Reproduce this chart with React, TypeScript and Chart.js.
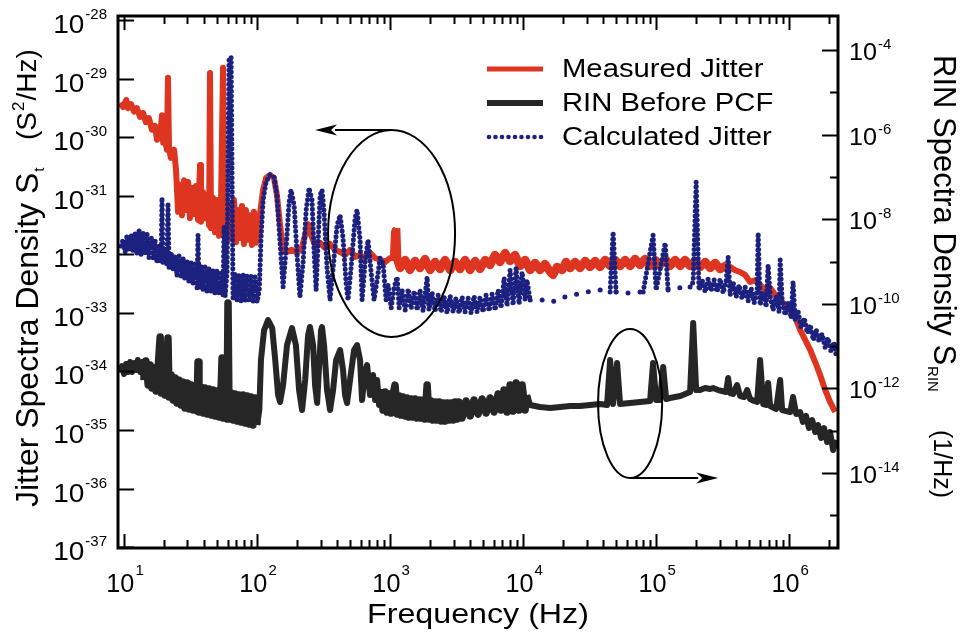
import React, { useEffect, useRef } from 'react';
import { Chart, registerables } from 'chart.js';

Chart.register(...registerables);

// ---- data: [frequency (Hz), spectral density] ----
const measuredJitter: [number, number][] = [
  [9.33, 3.89e-30], [9.83, 3.31e-30], [10.4, 4.37e-30], [10.7, 3.16e-30], [11.3, 3.72e-30], [11.9, 2.75e-30],
  [12.5, 3.16e-30], [13.2, 2.24e-30], [13.9, 2.63e-30], [14.6, 1.82e-30], [15.4, 2.14e-30], [16.2, 1.35e-30],
  [17.1, 1.58e-30], [17.7, 9.12e-31], [18.7, 1.1e-30], [19.3, 2.4e-30], [19.7, 8.13e-31], [20.3, 9.77e-31],
  [21.0, 6.17e-31], [21.4, 1.05e-29], [21.8, 6.17e-31], [22.5, 4.47e-31], [23.8, 6.17e-31], [24.6, 2.75e-31],
  [25.5, 5.37e-32], [26.4, 1.55e-31], [27.3, 4.68e-32], [28.3, 1.86e-31], [29.3, 5.75e-32], [30.3, 1.74e-31],
  [31.3, 4.17e-32], [32.4, 1.38e-31], [33.6, 4.9e-32], [34.8, 1.48e-31], [36.0, 3.89e-32], [37.3, 3.39e-31],
  [37.9, 3.63e-32], [39.3, 1.17e-31], [40.6, 4.17e-32], [42.1, 1.05e-31], [43.6, 3.16e-32], [44.3, 1.26e-29],
  [45.1, 2.82e-32], [46.7, 9.33e-32], [48.3, 2.4e-32], [50.0, 8.51e-32], [51.8, 2.09e-32], [53.6, 7.24e-32],
  [55.5, 1.55e-29], [56.5, 2.09e-32], [58.5, 9.33e-32], [60.5, 1.78e-32], [62.7, 7.08e-32], [64.9, 1.91e-32],
  [67.1, 8.51e-32], [69.5, 1.62e-32], [71.9, 5.75e-32], [74.5, 1.91e-32], [77.1, 6.76e-32], [79.8, 1.51e-32],
  [82.6, 5.75e-32], [85.5, 1.78e-32], [88.5, 4.68e-32], [91.6, 1.45e-32], [94.8, 5.37e-32], [98.2, 1.58e-32],
  [102, 1.91e-32], [105, 4.68e-32], [111, 1.26e-31], [117, 2.04e-31], [125, 2.29e-31], [134, 2.04e-31],
  [141, 1.05e-31], [149, 3.16e-32], [157, 1.2e-32], [168, 1.1e-32], [183, 1.2e-32], [200, 1.07e-32],
  [218, 1.35e-32], [230, 2.14e-32], [242, 3.31e-32], [255, 2.14e-32], [273, 1.45e-32], [298, 1.58e-32],
  [324, 1.29e-32], [354, 1.51e-32], [386, 1.2e-32], [421, 1.1e-32], [459, 9.77e-33], [500, 1.2e-32],
  [546, 9.12e-33], [595, 9.77e-33], [649, 8.71e-33], [708, 1.07e-32], [771, 8.71e-33], [841, 8.13e-33],
  [917, 7.41e-33], [1000, 8.71e-33], [1050, 8.71e-33], [1070, 2.4e-32], [1110, 2.82e-32], [1130, 8.37e-33],
  [1190, 5.87e-33], [1300, 8.05e-33], [1410, 5.43e-33], [1540, 7.74e-33], [1680, 5.87e-33], [1830, 8.37e-33],
  [2000, 5.43e-33], [2180, 7.45e-33], [2380, 5.65e-33], [2590, 8.05e-33], [2830, 5.43e-33], [3080, 7.45e-33],
  [3360, 5.65e-33], [3660, 8.05e-33], [4000, 5.43e-33], [4360, 7.74e-33], [4750, 5.65e-33], [5180, 8.05e-33],
  [5650, 6.62e-33], [6150, 9.8e-33], [6710, 7.45e-33], [7320, 1.06e-32], [7980, 7.74e-33], [8700, 9.8e-33],
  [9490, 6.36e-33], [10350, 8.05e-33],
  [11300, 5.43e-33], [12300, 7.16e-33], [13400, 5.43e-33], [14600, 6.89e-33], [16000, 5.02e-33], [16800, 4.47e-33],
  [18000, 6.11e-33], [19700, 5.43e-33], [21000, 7.45e-33], [22600, 5.87e-33], [24600, 7.45e-33], [26800, 5.87e-33],
  [29300, 7.74e-33], [31900, 6.11e-33], [34800, 7.74e-33], [37900, 6.11e-33], [41400, 8.05e-33], [45100, 6.36e-33],
  [49200, 8.05e-33], [53600, 6.36e-33], [58500, 8.05e-33], [63800, 6.36e-33], [69500, 8.37e-33], [75800, 6.62e-33],
  [82700, 8.37e-33], [90100, 6.36e-33], [98300, 8.05e-33], [107000, 6.62e-33], [117000, 8.37e-33], [127000, 6.36e-33],
  [139000, 8.05e-33], [152000, 6.36e-33], [165000, 8.05e-33], [180000, 6.36e-33], [196000, 7.74e-33], [214000, 6.11e-33],
  [234000, 7.45e-33], [255000, 5.87e-33], [278000, 7.16e-33], [303000, 5.65e-33], [342000, 6.62e-33],
  [393000, 5.37e-33], [428000, 5.01e-33], [467000, 4.47e-33],
  [509000, 3.39e-33], [555000, 3.63e-33], [605000, 3.02e-33], [660000, 2.45e-33], [719000, 2.69e-33], [785000, 2.04e-33],
  [855000, 1.66e-33], [933000, 1.38e-33], [1.02e6, 1.12e-33], [1.11e6, 8.51e-34], [1.21e6, 5.13e-34], [1.32e6, 3.47e-34],
  [1.44e6, 2.34e-34], [1.57e6, 1.45e-34], [1.71e6, 8.71e-35], [1.87e6, 4.79e-35], [2.03e6, 3.02e-35], [2.22e6, 2.04e-35],
];

const rinBeforePCF: [number, number][] = [
  [9.33, 2.44e-12], [9.66, 3.39e-12], [10.0, 2.19e-12], [10.35, 3.78e-12], [10.7, 2.44e-12], [11.1, 4.21e-12],
  [11.5, 2.44e-12], [11.9, 3.98e-12], [12.3, 2.72e-12], [12.7, 4.69e-12], [13.2, 2.44e-12], [13.7, 4.21e-12],
  [14.1, 1.58e-12], [14.6, 4.44e-12], [15.2, 1.21e-12], [15.7, 3.56e-12], [16.2, 1.02e-12], [16.8, 3.03e-12],
  [17.4, 8.7e-13], [18.0, 2.71e-12], [18.7, 1.64e-11], [19.0, 7.8e-13], [19.6, 2.44e-12], [20.3, 7.0e-13],
  [21.0, 2.31e-12], [21.4, 1.55e-11], [21.8, 6.27e-13], [22.6, 2.07e-12], [23.4, 5.33e-13], [24.2, 1.76e-12],
  [25.0, 4.53e-13], [25.9, 1.57e-12], [26.8, 4.06e-13], [27.8, 1.41e-12], [28.7, 3.45e-13], [29.8, 1.34e-12],
  [30.8, 3.27e-13], [31.9, 1.2e-12], [33.0, 3.1e-13], [34.2, 1.08e-12], [35.4, 2.93e-13], [36.0, 4.21e-12],
  [36.6, 2.77e-13], [37.9, 1.08e-12], [39.3, 2.63e-13], [40.6, 1.02e-12], [42.1, 2.49e-13], [43.6, 9.67e-13],
  [45.1, 2.35e-13], [46.7, 9.14e-13], [48.3, 2.23e-13], [50.0, 8.66e-13], [51.8, 2.11e-13], [53.6, 8.66e-13],
  [54.6, 5.24e-12], [55.5, 2.0e-13], [57.5, 8.2e-13], [59.5, 1.89e-13], [60.5, 1.04e-10], [61.6, 1.89e-13],
  [63.8, 7.77e-13], [66.0, 1.79e-13], [68.3, 7.35e-13], [70.7, 1.7e-13], [73.2, 6.97e-13], [75.8, 1.61e-13],
  [78.5, 6.97e-13], [81.2, 1.53e-13], [84.1, 6.6e-13], [87.1, 1.44e-13], [90.1, 6.25e-13], [93.3, 1.37e-13],
  [96.6, 5.92e-13], [100, 1.37e-13],
  [104, 3.08e-13], [107, 4.69e-12], [113, 2.4e-11], [121, 4.14e-11], [130, 2.68e-11], [137, 4.69e-12],
  [144, 6.98e-13], [149, 4.77e-13], [157, 1.2e-12], [168, 1.06e-11], [183, 2.68e-11], [196, 1.06e-11],
  [207, 9.16e-13], [218, 3.08e-13], [230, 1.58e-12], [242, 1.83e-11], [250, 2.83e-11], [264, 1.06e-11],
  [273, 1.2e-12], [283, 4.52e-13], [293, 3.57e-12], [303, 2.4e-11], [308, 2.83e-11], [319, 1.06e-11],
  [336, 9.16e-13], [354, 3.08e-13], [373, 9.16e-13], [393, 4.69e-12], [421, 8.09e-12], [443, 2.72e-12],
  [459, 6.98e-13], [475, 4.52e-13], [500, 1.58e-12], [536, 8.09e-12], [565, 1.06e-11], [595, 4.69e-12],
  [616, 5.32e-13], [649, 2.44e-12], [672, 3.57e-12], [707, 6.98e-13], [745, 2.07e-12], [772, 5.32e-13],
  [799, 1.58e-12], [827, 4.06e-13],
  [856, 9.7e-13], [886, 3.08e-13], [917, 8.24e-13], [949, 2.77e-13], [983, 7.39e-13], [1020, 2.62e-13],
  [1050, 7.0e-13], [1090, 1.2e-12], [1130, 2.48e-13], [1170, 6.63e-13], [1210, 2.35e-13], [1250, 6.28e-13],
  [1300, 2.23e-13], [1340, 5.95e-13], [1390, 2.11e-13], [1440, 5.64e-13], [1490, 2.11e-13], [1540, 5.64e-13],
  [1600, 2.0e-13], [1650, 5.34e-13], [1710, 2.0e-13], [1770, 5.34e-13], [1830, 1.89e-13], [1900, 1.2e-12],
  [1960, 1.89e-13], [2030, 5.05e-13], [2100, 1.79e-13], [2180, 4.78e-13], [2260, 1.79e-13], [2340, 4.78e-13],
  [2420, 1.7e-13], [2500, 4.53e-13], [2590, 1.7e-13], [2680, 4.53e-13], [2780, 1.79e-13], [2870, 4.53e-13],
  [2980, 1.79e-13], [3080, 4.78e-13], [3190, 1.89e-13], [3300, 4.78e-13], [3480, 2.0e-13], [3730, 5.05e-13],
  [4000, 2.23e-13], [4280, 5.34e-13], [4590, 2.48e-13], [4920, 5.64e-13], [5270, 2.62e-13], [5650, 5.95e-13],
  [6050, 2.77e-13], [6490, 7.39e-13], [6830, 3.08e-13], [7200, 9.16e-13], [7580, 2.77e-13], [7990, 1.2e-12],
  [8410, 2.92e-13], [8860, 1.34e-12], [9330, 3.08e-13], [9830, 1.2e-12], [10350, 3.08e-13], [10700, 6.98e-13],
  [11300, 4.06e-13], [13400, 3.63e-13], [16000, 3.44e-13], [19000, 3.63e-13], [22600, 3.84e-13], [26800, 3.84e-13],
  [31900, 4.06e-13], [37900, 4.28e-13], [42800, 4.06e-13], [45100, 4.69e-12], [47500, 4.28e-13], [50900, 3.98e-12],
  [53600, 4.28e-13], [63800, 4.52e-13], [75800, 4.77e-13], [90100, 5.04e-13], [94900, 3.98e-12], [100000, 5.32e-13],
  [107000, 5.32e-13], [113000, 3.21e-12], [119000, 5.61e-13], [127000, 5.93e-13], [152000, 6.61e-13], [180000, 8.22e-13],
  [190000, 3.52e-11], [200000, 9.16e-13],
  [214000, 9.16e-13], [234000, 1.02e-12], [255000, 9.68e-13], [268000, 1.02e-12], [293000, 9.16e-13], [313000, 8.69e-13],
  [336000, 8.22e-13], [348000, 1.76e-12], [360000, 7.78e-13], [379000, 7.38e-13], [406000, 1.2e-12], [428000, 6.61e-13],
  [459000, 6.26e-13], [483000, 9.16e-13], [509000, 5.61e-13], [546000, 5.04e-13], [575000, 4.77e-13], [605000, 4.69e-12],
  [638000, 4.28e-13], [672000, 4.06e-13], [695000, 1.34e-12], [720000, 3.84e-13], [772000, 3.44e-13], [799000, 3.26e-13],
  [856000, 1.58e-12], [886000, 3.08e-13], [949000, 2.92e-13], [1.02e6, 2.77e-13], [1.07e6, 6.26e-13], [1.13e6, 2.48e-13],
  [1.21e6, 2.77e-13], [1.27e6, 1.61e-13], [1.34e6, 2.23e-13], [1.41e6, 1.16e-13], [1.49e6, 1.79e-13], [1.57e6, 9.31e-14],
  [1.65e6, 1.36e-13], [1.74e6, 6.72e-14], [1.83e6, 1.16e-13], [1.93e6, 5.41e-14], [2.03e6, 9.31e-14], [2.14e6, 3.5e-14],
  [2.26e6, 6.03e-14],
];

const calculatedJitter: [number, number][] = [
  [9.49, 1.4e-32], [9.83, 1.77e-32], [10.2, 1.1e-32], [10.5, 2.07e-32], [10.9, 1.19e-32], [11.3, 2.24e-32],
  [11.7, 1.1e-32], [12.1, 2.43e-32], [12.5, 1.02e-32], [13.0, 2.62e-32], [13.4, 9.42e-33], [13.9, 2.43e-32],
  [14.4, 9.8e-33], [14.9, 2.24e-32], [15.4, 8.71e-33], [16.0, 2.07e-32], [16.5, 8.05e-33], [17.1, 1.77e-32],
  [17.7, 7.16e-33], [18.3, 1.51e-32], [19.0, 7.45e-33], [19.3, 9.25e-32], [19.6, 6.89e-33], [20.3, 1.29e-32],
  [21.0, 6.36e-33], [21.4, 7.59e-32], [21.8, 5.87e-33], [22.6, 1.1e-32], [23.4, 5.43e-33], [24.2, 9.8e-33],
  [25.0, 4.29e-33], [25.9, 9.42e-33], [26.8, 3.96e-33], [27.8, 8.71e-33], [28.7, 3.66e-33], [29.8, 8.05e-33],
  [30.8, 3.26e-33], [31.9, 7.45e-33], [33.0, 3.01e-33], [34.2, 6.89e-33], [35.4, 2.67e-33], [36.0, 2.15e-32],
  [36.6, 2.57e-33], [37.9, 6.36e-33], [39.3, 2.47e-33], [40.6, 6.11e-33], [42.1, 2.29e-33], [43.6, 5.87e-33],
  [45.1, 2.2e-33], [46.7, 5.43e-33], [48.3, 2.11e-33], [50.0, 5.43e-33], [51.8, 2.03e-33], [53.6, 5.22e-33],
  [55.5, 1.95e-33], [56.5, 2.95e-32], [57.5, 1.88e-33], [59.5, 5.02e-33], [61.6, 2.11e-29], [63.8, 2.38e-29],
  [66.0, 1.8e-33], [68.3, 4.83e-33], [70.7, 1.67e-33], [73.2, 4.65e-33], [75.8, 1.6e-33], [78.5, 4.65e-33],
  [81.2, 1.54e-33], [84.1, 4.29e-33], [87.1, 1.54e-33], [90.1, 4.29e-33], [93.3, 1.48e-33], [96.6, 4.12e-33],
  [100, 1.54e-33],
  [104, 2.47e-33], [107, 1.77e-32], [111, 8.55e-32], [117, 1.73e-31], [125, 2.29e-31], [134, 2.11e-31],
  [141, 1.04e-31], [146, 3.19e-32], [152, 8.05e-33], [157, 2.78e-33], [165, 1.19e-32], [174, 7.59e-32],
  [180, 1.27e-31], [190, 7.02e-32], [200, 9.8e-33], [210, 1.88e-33], [222, 7.45e-33], [234, 5.77e-32],
  [246, 1.37e-31], [259, 8.55e-32], [268, 1.19e-32], [278, 2.47e-33], [287, 1.45e-32], [298, 1.04e-31],
  [308, 1.27e-31], [319, 5.32e-32], [336, 5.87e-33], [354, 1.67e-33], [373, 5.87e-33], [400, 3.19e-32],
  [421, 4.73e-32], [443, 1.91e-32], [467, 3.26e-33], [483, 1.67e-33], [509, 5.87e-33], [546, 4.21e-32],
  [565, 5.77e-32], [595, 1.77e-32], [616, 1.67e-33], [649, 7.45e-33], [683, 1.77e-32], [720, 5.02e-33],
  [758, 1.67e-33], [799, 3.66e-33], [841, 8.71e-33], [886, 7.16e-33], [933, 1.67e-33],
  [966, 3.01e-33], [1020, 1.22e-33], [1070, 2.67e-33], [1130, 4.12e-33], [1170, 1.22e-33], [1230, 2.47e-33],
  [1300, 1.12e-33], [1370, 2.57e-33], [1440, 1.17e-33], [1520, 2.38e-33], [1600, 1.12e-33], [1680, 2.47e-33],
  [1770, 1.08e-33], [1900, 4.12e-33], [1960, 1.12e-33], [2070, 2.2e-33], [2180, 1.08e-33], [2300, 2.03e-33],
  [2420, 1.04e-33], [2550, 1.88e-33], [2680, 1.0e-33], [2830, 1.95e-33], [2980, 1.04e-33], [3130, 1.8e-33],
  [3300, 1.0e-33], [3480, 1.88e-33], [3660, 1.04e-33], [3860, 1.8e-33], [4060, 1.0e-33], [4280, 1.95e-33],
  [4510, 1.04e-33], [4750, 1.88e-33], [5000, 1.04e-33], [5270, 2.03e-33], [5550, 1.08e-33], [5850, 2.11e-33],
  [6160, 1.12e-33], [6490, 2.47e-33], [6830, 1.22e-33], [7200, 3.96e-33], [7580, 1.32e-33], [7990, 5.43e-33],
  [8410, 1.37e-33], [8860, 5.87e-33], [9330, 1.43e-33], [9830, 5.02e-33], [10350, 1.67e-33], [10700, 3.66e-33],
  [11300, 1.67e-33], [14100, 1.67e-33], [16500, 1.54e-33], [19000, 1.8e-33], [23800, 2.03e-33], [30300, 2.29e-33],
  [37900, 2.47e-33], [45100, 2.29e-33], [47500, 2.43e-32], [50000, 2.29e-33], [60500, 2.2e-33], [79900, 2.29e-33],
  [94900, 2.15e-32], [100000, 2.47e-33], [117000, 1.57e-32], [123000, 2.47e-33], [144000, 2.67e-33], [180000, 2.78e-33],
  [190000, 3.39e-33], [200000, 1.73e-31], [210000, 2.47e-33], [222000, 3.66e-33], [234000, 2.29e-33], [246000, 3.81e-33],
  [259000, 2.38e-33], [273000, 3.66e-33], [287000, 2.29e-33], [303000, 3.81e-33], [319000, 2.2e-33], [336000, 3.52e-33],
  [348000, 9.06e-33], [360000, 2.03e-33], [379000, 3.39e-33], [400000, 1.88e-33], [421000, 3.01e-33], [443000, 1.73e-33],
  [467000, 2.78e-33], [492000, 1.6e-33], [518000, 2.67e-33], [546000, 1.48e-33], [575000, 2.47e-33], [585000, 2.33e-32],
  [605000, 1.37e-33], [638000, 2.29e-33], [672000, 1.27e-33], [695000, 6.62e-33], [720000, 1.95e-33], [758000, 1.12e-33],
  [799000, 1.95e-33], [841000, 1.04e-33], [856000, 8.05e-33], [886000, 1.67e-33], [933000, 9.25e-34], [983000, 1.54e-33],
  [1.035e6, 8.22e-34], [1.07e6, 3.39e-33], [1.11e6, 7.59e-34], [1.17e6, 1.04e-33], [1.23e6, 5.55e-34], [1.3e6, 8.22e-34],
  [1.37e6, 4.55e-34], [1.44e6, 6.24e-34], [1.52e6, 3.45e-34], [1.6e6, 5.12e-34], [1.68e6, 3.19e-34], [1.77e6, 4.37e-34],
  [1.87e6, 2.52e-34], [1.96e6, 3.74e-34], [2.07e6, 2.15e-34], [2.18e6, 3.19e-34], [2.26e6, 1.77e-34],
];

// ---- axes / ticks ----
const seriesNames = ['Measured Jitter', 'RIN Before PCF', 'Calculated Jitter'];
const xDecades = [1, 2, 3, 4, 5, 6];
const xMinorMultiples = [2, 3, 4, 5, 6, 7, 8, 9];
const leftDecades = [-28, -29, -30, -31, -32, -33, -34, -35, -36, -37];
const rightLabelDecades = [-4, -6, -8, -10, -12, -14];
const rightMinorDecades = [-5, -7, -9, -11, -13, -15];
const xRange = [9.01, 2.33e6];
const leftRange = [9.62e-38, 1.19e-28];
const rightRange = [1.69e-16, 6.37e-4];
const sparseBand = [11000, 185000]; // frequency band where the calculated curve is sparsely sampled
const redThickBand = [1100, 350000]; // frequency bands drawn as a broad noisy trace
const blackThickBands = [[14, 100], [850, 10700]];

// ---- annotations (data coordinates) ----
const leftEllipse = { f0: 342, f1: 3080, v0: 3.89e-34, v1: 1.34e-30, arrowTip: 273 };
const rightEllipse = { f0: 36600, f1: 111000, v0: 1.51e-36, v1: 5.32e-34, arrowTip: 293000 };

const RED = '#de3520';
const BLACK = '#262626';
const BLUE = '#1c2180';
const FONT = '"Liberation Sans", Arial, Helvetica, sans-serif';

function textWidth(ctx: CanvasRenderingContext2D, s: string, size: number, hs = 1) {
  ctx.font = `${size}px ${FONT}`;
  return ctx.measureText(s).width * hs;
}

function drawText(ctx: CanvasRenderingContext2D, s: string, x: number, y: number, size: number, hs = 1, align = 'left') {
  const w = textWidth(ctx, s, size, hs);
  const x0 = align === 'left' ? x : align === 'right' ? x - w : x - w / 2;
  ctx.save();
  ctx.translate(x0, y);
  ctx.scale(hs, 1);
  ctx.textAlign = 'left';
  ctx.textBaseline = 'alphabetic';
  ctx.fillText(s, 0, 0);
  ctx.restore();
  return w;
}

type PowStyle = { main: number; sup: number; raise: number; hs: number; supHs: number; gap: number };

function drawPower(ctx: CanvasRenderingContext2D, exp: number, x: number, y: number, align: string, st: PowStyle) {
  const ex = String(exp);
  const wb = textWidth(ctx, '10', st.main, st.hs);
  const we = textWidth(ctx, ex, st.sup, st.supHs);
  const total = wb + st.gap + we;
  const x0 = align === 'left' ? x : align === 'right' ? x - total : x - total / 2;
  drawText(ctx, '10', x0, y, st.main, st.hs);
  drawText(ctx, ex, x0 + wb + st.gap, y - st.raise, st.sup, st.supHs);
}

function drawRotated(ctx: CanvasRenderingContext2D, x: number, y: number, angle: number,
  parts: { text: string; size: number; dy: number }[]) {
  ctx.save();
  ctx.translate(x, y);
  ctx.rotate(angle);
  ctx.textAlign = 'left';
  ctx.textBaseline = 'alphabetic';
  let u = 0;
  for (const p of parts) {
    ctx.font = `${p.size}px ${FONT}`;
    ctx.fillText(p.text, u, p.dy);
    u += ctx.measureText(p.text).width + 1;
  }
  ctx.restore();
}

function arrow(ctx: CanvasRenderingContext2D, x0: number, y: number, x1: number) {
  const dir = Math.sign(x1 - x0);
  const len = 22, half = 5.5;
  ctx.beginPath();
  ctx.moveTo(x0, y);
  ctx.lineTo(x1 - dir * (len - 2), y);
  ctx.stroke();
  ctx.beginPath();
  ctx.moveTo(x1, y);
  ctx.lineTo(x1 - dir * len, y - half);
  ctx.lineTo(x1 - dir * (len - 6), y);
  ctx.lineTo(x1 - dir * len, y + half);
  ctx.closePath();
  ctx.fill();
}

const decorPlugin = {
  id: 'decor',
  afterDatasetsDraw(chart: any) {
    const { ctx, chartArea: a, scales } = chart;
    const xs = scales.x, yl = scales.y, yr = scales.y2;
    ctx.save();
    ctx.strokeStyle = '#000';
    ctx.fillStyle = '#000';

    // ticks (inward)
    ctx.lineWidth = 2;
    ctx.beginPath();
    for (const d of xDecades) {
      for (const m of [1, ...xMinorMultiples]) {
        const f = m * Math.pow(10, d);
        if (f < xRange[0] || f > xRange[1]) continue;
        const px = Math.round(xs.getPixelForValue(f)) + 0.5;
        const len = m === 1 ? 14 : 8;
        ctx.moveTo(px, a.bottom); ctx.lineTo(px, a.bottom - len);
        ctx.moveTo(px, a.top); ctx.lineTo(px, a.top + len);
      }
    }
    for (const d of leftDecades) {
      const py = Math.round(yl.getPixelForValue(Math.pow(10, d))) + 0.5;
      ctx.moveTo(a.left, py); ctx.lineTo(a.left + 16, py);
    }
    for (const d of rightLabelDecades) {
      const py = Math.round(yr.getPixelForValue(Math.pow(10, d))) + 0.5;
      ctx.moveTo(a.right, py); ctx.lineTo(a.right - 16, py);
    }
    for (const d of rightMinorDecades) {
      const py = Math.round(yr.getPixelForValue(Math.pow(10, d))) + 0.5;
      if (py > a.bottom) continue;
      ctx.moveTo(a.right, py); ctx.lineTo(a.right - 8, py);
    }
    ctx.stroke();

    // frame
    ctx.lineWidth = 3;
    ctx.strokeRect(a.left, a.top, a.right - a.left, a.bottom - a.top);

    // tick labels
    const xStyle = { main: 26, sup: 15, raise: 17, hs: 0.97, supHs: 1, gap: 1 };
    for (const d of xDecades) {
      drawPower(ctx, d, xs.getPixelForValue(Math.pow(10, d)) + 1, 592, 'center', xStyle);
    }
    const lStyle = { main: 25, sup: 15, raise: 14, hs: 1.12, supHs: 1, gap: 1 };
    for (const d of leftDecades) {
      drawPower(ctx, d, 107, yl.getPixelForValue(Math.pow(10, d)) + 13, 'right', lStyle);
    }
    const rStyle = { main: 24, sup: 15, raise: 11, hs: 1.05, supHs: 1, gap: 1 };
    for (const d of rightLabelDecades) {
      drawPower(ctx, d, 849, yr.getPixelForValue(Math.pow(10, d)) + 10, 'left', rStyle);
    }

    // axis titles
    drawText(ctx, 'Frequency (Hz)', 478, 623, 28, 1.15, 'center');
    drawRotated(ctx, 38, 507, -Math.PI / 2, [
      { text: 'Jitter Spectra Density S', size: 32, dy: 0 },
      { text: 't', size: 15, dy: 6 },
    ]);
    drawRotated(ctx, 36, 140, -Math.PI / 2, [
      { text: '(S', size: 28, dy: 0 },
      { text: '2', size: 17, dy: -12 },
      { text: '/Hz)', size: 28, dy: 0 },
    ]);
    drawRotated(ctx, 934, 55, Math.PI / 2, [
      { text: 'RIN Spectra Density S', size: 31, dy: 0 },
      { text: 'RIN', size: 15, dy: 6 },
    ]);
    drawRotated(ctx, 934, 430, Math.PI / 2, [{ text: '(1/Hz)', size: 25, dy: 0 }]);

    // annotations: ellipses + arrows
    ctx.lineWidth = 2;
    for (const e of [leftEllipse, rightEllipse]) {
      const x0 = xs.getPixelForValue(e.f0), x1 = xs.getPixelForValue(e.f1);
      const yTop = yl.getPixelForValue(e.v1), yBot = yl.getPixelForValue(e.v0);
      const cx = (x0 + x1) / 2, cy = (yTop + yBot) / 2;
      ctx.beginPath();
      ctx.ellipse(cx, cy, (x1 - x0) / 2, (yBot - yTop) / 2, 0, 0, Math.PI * 2);
      ctx.stroke();
      const tip = xs.getPixelForValue(e.arrowTip);
      const ay = tip < cx ? yTop : yBot;
      arrow(ctx, cx, ay, tip);
    }

    // legend
    const lx0 = 487, lx1 = 543, tx = 562;
    const rows = [77, 111, 145];
    ctx.lineCap = 'butt';
    ctx.strokeStyle = RED; ctx.lineWidth = 5;
    ctx.beginPath(); ctx.moveTo(lx0, rows[0] - 8); ctx.lineTo(lx1, rows[0] - 8); ctx.stroke();
    ctx.strokeStyle = BLACK; ctx.lineWidth = 6;
    ctx.beginPath(); ctx.moveTo(lx0, rows[1] - 8); ctx.lineTo(lx1, rows[1] - 8); ctx.stroke();
    ctx.fillStyle = BLUE;
    for (let px = lx0 + 2; px <= lx1; px += 6.5) {
      ctx.beginPath(); ctx.arc(px, rows[2] - 8, 2.3, 0, Math.PI * 2); ctx.fill();
    }
    ctx.fillStyle = '#000';
    seriesNames.forEach((name, i) => drawText(ctx, name, tx, rows[i], 25, 1.17, 'left'));

    ctx.restore();
  },
};

export default function App() {
  const ref = useRef<HTMLCanvasElement | null>(null);
  useEffect(() => {
    if (!ref.current) return;
    const toPts = (arr: [number, number][]) => arr.map(([x, y]) => ({ x, y }));
    const inBand = (f: number, b: number[]) => f >= b[0] && f <= b[1];
    const chart = new Chart(ref.current, {
      type: 'line',
      data: {
        datasets: [
          {
            label: seriesNames[2],
            data: toPts(calculatedJitter),
            yAxisID: 'y',
            borderColor: BLUE,
            borderWidth: 5,
            borderDash: [0, 4.8],
            borderCapStyle: 'round',
            borderJoinStyle: 'round',
            pointRadius: 0,
            fill: false,
            order: 1,
            segment: {
              borderDash: (c: any) => {
                const fa = calculatedJitter[c.p0DataIndex][0];
                const fb = calculatedJitter[c.p1DataIndex][0];
                const steep = Math.abs(c.p1.y - c.p0.y) > Math.abs(c.p1.x - c.p0.x);
                return fa >= sparseBand[0] && fb <= sparseBand[1] && !steep ? [0, 12] : undefined;
              },
            },
          } as any,
          {
            label: seriesNames[0],
            data: toPts(measuredJitter),
            yAxisID: 'y',
            borderColor: RED,
            borderWidth: 6,
            borderJoinStyle: 'round',
            pointRadius: 0,
            fill: false,
            order: 2,
            segment: {
              borderWidth: (c: any) => {
                const fa = measuredJitter[c.p0DataIndex][0];
                const fb = measuredJitter[c.p1DataIndex][0];
                return inBand(fa, redThickBand) && inBand(fb, redThickBand) ? 8.5 : undefined;
              },
            },
          } as any,
          {
            label: seriesNames[1],
            data: toPts(rinBeforePCF),
            yAxisID: 'y2',
            borderColor: BLACK,
            borderWidth: 6,
            borderJoinStyle: 'round',
            pointRadius: 0,
            fill: false,
            order: 3,
            segment: {
              borderWidth: (c: any) => {
                const fa = rinBeforePCF[c.p0DataIndex][0];
                const fb = rinBeforePCF[c.p1DataIndex][0];
                return blackThickBands.some((b) => inBand(fa, b) && inBand(fb, b)) ? 7.5 : undefined;
              },
            },
          } as any,
        ],
      },
      options: {
        animation: false,
        responsive: false,
        devicePixelRatio: 1,
        layout: { padding: { left: 118, right: 125, top: 16, bottom: 89 } },
        elements: { line: { tension: 0 } },
        scales: {
          x: { type: 'logarithmic', min: xRange[0], max: xRange[1], display: false },
          y: { type: 'logarithmic', position: 'left', min: leftRange[0], max: leftRange[1], display: false },
          y2: { type: 'logarithmic', position: 'right', min: rightRange[0], max: rightRange[1], display: false },
        },
        plugins: { legend: { display: false }, tooltip: { enabled: false } },
      },
      plugins: [decorPlugin],
    } as any);
    return () => chart.destroy();
  }, []);
  return (
    <div style={{ position: 'absolute', left: 0, top: 0, width: 963, height: 637, background: '#fff' }}>
      <canvas ref={ref} width={963} height={637} style={{ display: 'block', width: 963, height: 637 }} />
    </div>
  );
}
